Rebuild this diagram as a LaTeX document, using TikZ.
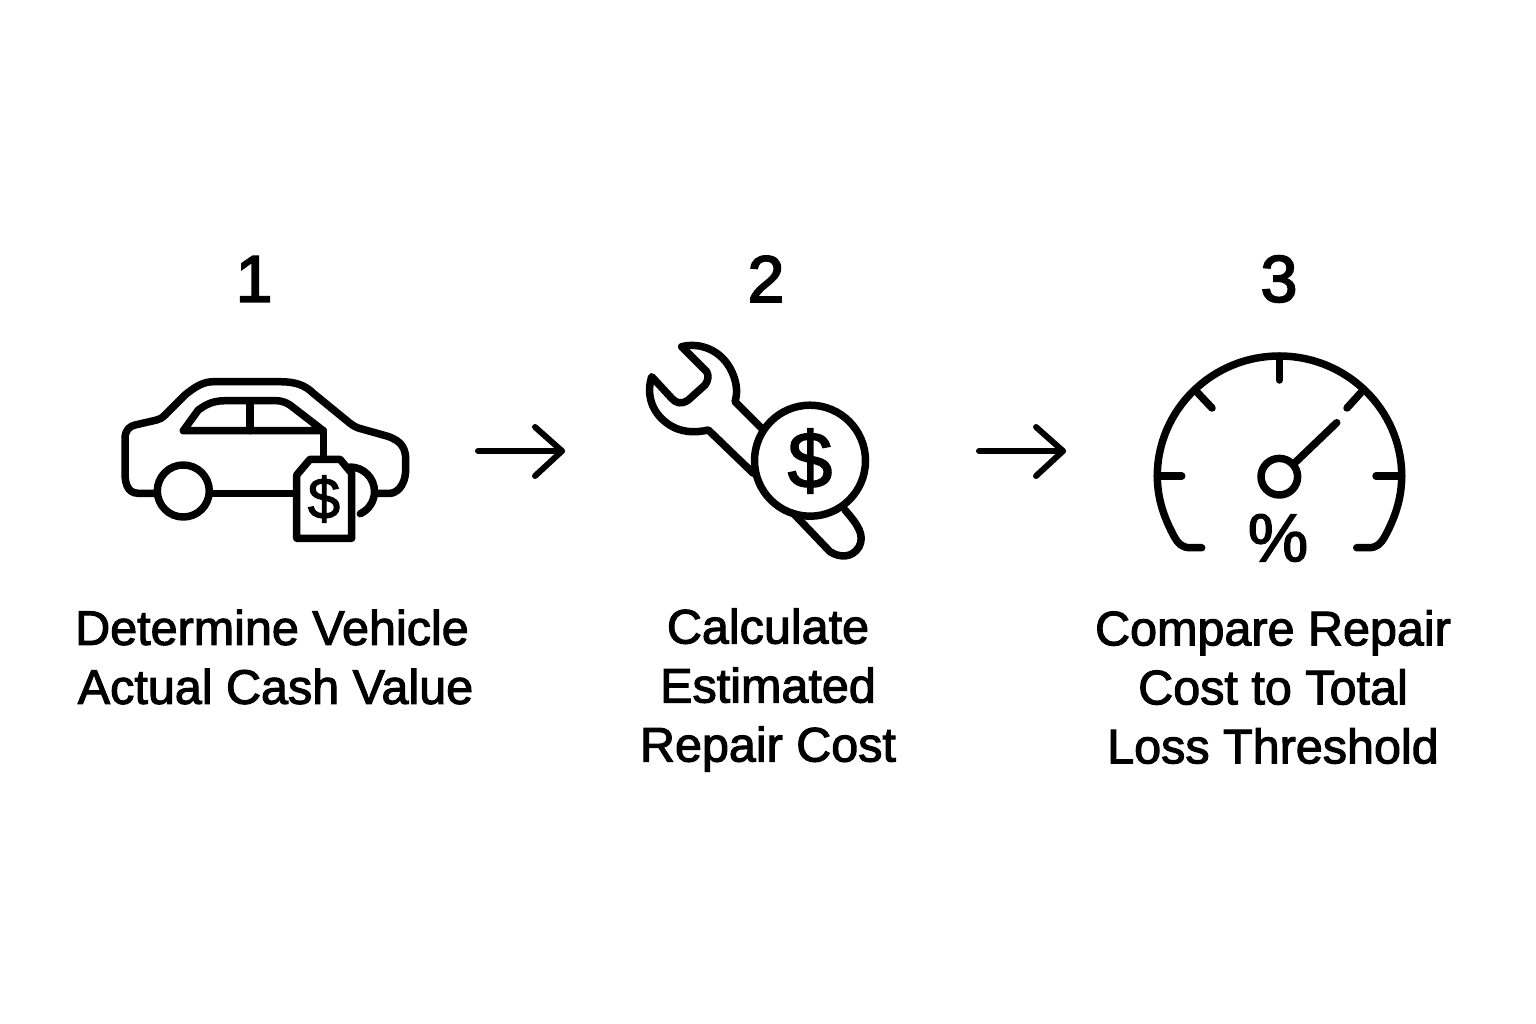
\documentclass[tikz,border=0pt]{standalone}
\usepackage{fontspec}
\setmainfont{Liberation Sans}[FakeBold=2.2]
\newfontfamily\numfont{Liberation Sans}[FakeBold=2.8]
\newfontfamily\iconfont{Liberation Sans}[FakeBold=2]
\usetikzlibrary{calc}
\tikzset{
  icon/.style={line width=7.5pt,line cap=round,line join=round,draw=black},
  flow/.style={line width=6pt,line cap=round,line join=round,draw=black},
  steptext/.style={font=\fontsize{48.5}{59}\selectfont,align=center,text=black,inner sep=0pt},
  stepnum/.style={font=\numfont\fontsize{66}{66}\selectfont,text=black,inner sep=0pt},
  symb/.style={text=black,inner sep=0pt}
}
\begin{document}
\begin{tikzpicture}[x=1pt,y=-1pt]
\useasboundingbox (0,0) rectangle (1536,1024);
\fill[white] (0,0) rectangle (1536,1024);
% numbers
\node[stepnum] (n1) at (254,279) {1};
\node[stepnum] (n2) at (766,279) {2};
\node[stepnum] (n3) at (1279,279) {3};
% captions
\node[steptext] (t1) at (272,657) {Determine Vehicle\\\hspace{7pt}Actual Cash Value};
\node[steptext] (t2) at (768,690) {Calculate\\Estimated\\Repair Cost};
\node[steptext] (t3) at (1273,687) {Compare Repair\\Cost to Total\\Loss Threshold};
% car
\begin{scope}[icon]
\draw (156.7,493.3) -- (138.3,493.3) .. controls (126,493.3) and (125,480) .. (125,473)
  -- (125,438.3) .. controls (125,430) and (130,426) .. (135,425)
  -- (156.7,420) .. controls (160,419) and (162,418) .. (164,416)
  -- (185,395) .. controls (197,385) and (205,381.7) .. (213.3,381.7)
  -- (280,381.7) .. controls (295,381.7) and (305,385) .. (313.3,393.3)
  -- (350,423.3) .. controls (355,427) and (358,428) .. (360,428.5)
  -- (386.7,436) .. controls (403,441) and (405.7,450) .. (405.7,460)
  -- (405.7,470) .. controls (405,488) and (395,493.3) .. (390,493.3) -- (375,493.3);
\draw (213,493.3) -- (293,493.3);
\draw (183.3,491) circle (26);
\draw (183.3,430.7) -- (323.3,430.7)
  -- (290,405) .. controls (282,400) and (277,400.7) .. (273.3,400.7)
  -- (225,400.7) .. controls (210,400.7) and (203,407) .. (198.3,410) -- cycle;
\draw (250,400.7) -- (250,430.7);
\draw (323.3,430.7) -- (323.3,458);
\draw (350,467) arc (-90:65:24.5);
\draw[fill=white] (296.7,475) -- (310,459.3) -- (340,459.3) -- (351.7,473.3) -- (351.7,538.3) -- (296.7,538.3) -- cycle;
\end{scope}
\node[symb,font=\iconfont\fontsize{58}{58}\selectfont] (d1) at (324,499) {\$};
% arrow 1
\coordinate (a1s) at (478,451);
\coordinate (a1e) at (562,451);
\draw[flow] (a1s) -- (a1e);
\draw[flow] ($(a1e)+(-27,-24)$) -- (a1e) -- ($(a1e)+(-27,25)$);
% wrench
\begin{scope}[icon]
\draw (681.7,346.7) .. controls (700,342) and (722,350) .. (732,372)
  .. controls (738,385) and (737,395) .. (735,401.7) -- (761.7,428.3);
\draw (681.7,346.7) -- (706.7,371.7) .. controls (709,376) and (708,381) .. (705,385)
  -- (688.3,400) .. controls (681,405) and (676,403) .. (671.7,398.3)
  -- (651.7,376.7) .. controls (646,395) and (652,412) .. (666.7,423)
  .. controls (680,433) and (695,433) .. (708.3,430) -- (753.3,473.3);
\draw (793.3,513.3) -- (830,551.7) .. controls (840,558) and (852,558) .. (859,547)
  .. controls (865,535) and (858,525) .. (845,510);
\draw (810,460.7) circle (55.5);
\end{scope}
\node[symb,font=\iconfont\fontsize{80}{80}\selectfont] (d2) at (810,461) {\$};
% arrow 2
\coordinate (a2s) at (979,451);
\coordinate (a2e) at (1063,451);
\draw[flow] (a2s) -- (a2e);
\draw[flow] ($(a2e)+(-27,-24)$) -- (a2e) -- ($(a2e)+(-27,25)$);
% gauge
\begin{scope}[icon]
\draw (1201.7,547.7) -- (1190,547.7) .. controls (1182,547.7) and (1178,543) .. (1175,538)
  .. controls (1165,520) and (1157.3,500) .. (1157.3,476)
  .. controls (1157.3,410) and (1212,356) .. (1279.3,356)
  .. controls (1347,356) and (1401.7,410) .. (1401.7,476)
  .. controls (1401.7,500) and (1394,520) .. (1384,538)
  .. controls (1381,543) and (1377,547.7) .. (1369,547.7) -- (1356.7,547.7);
\draw (1279.3,356) -- (1279.3,380);
\draw (1157.3,476) -- (1181.7,476);
\draw (1401.7,476) -- (1376,476);
\draw (1195,390) -- (1212,408);
\draw (1363.3,390) -- (1347,408);
\draw (1296,461.7) -- (1336.7,422.7);
\draw (1279.3,476.7) circle (18.3);
\end{scope}
\node[symb,font=\iconfont\fontsize{68}{68}\selectfont] (pc) at (1278,538) {\%};
\end{tikzpicture}
\end{document}
